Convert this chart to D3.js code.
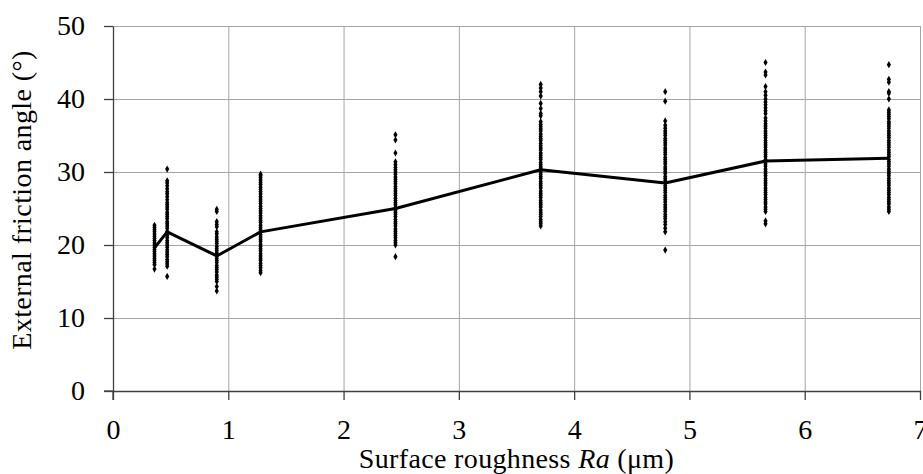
<!DOCTYPE html>
<html>
<head>
<meta charset="utf-8">
<script src="https://cdn.jsdelivr.net/npm/d3@7"></script>
<style>
  body { margin: 0; background: #fff; }
  svg { display: block; }
  text { font-family: "Liberation Serif", "DejaVu Serif", serif; }
</style>
</head>
<body>
<div id="chart"></div>
<script>
// roughness (Ra, um) of each tested surface
const roughness = [0.36, 0.47, 0.90, 1.28, 2.45, 3.71, 4.79, 5.66, 6.73];
// mean external friction angle per surface
const meanAngle = [19.6, 21.8, 18.5, 21.8, 25.0, 30.3, 28.5, 31.5, 31.9];

// individual measurements per surface (deg)
const g1 = [16.7,17.3,17.6,17.9,18.2,18.5,18.8,19.1,19.4,19.7,20.0,20.3,20.6,20.9,21.2,21.5,21.8,22.1,22.4,22.7];
const g2 = [15.7,17.1,17.4,17.7,18.0,18.4,18.7,19.0,19.3,19.7,20.0,20.3,20.6,21.0,21.3,21.6,21.9,22.3,22.6,22.9,23.2,23.6,23.9,24.2,24.5,24.9,25.2,25.5,25.8,26.2,26.6,27.0,27.3,27.7,28.1,28.5,28.8,30.4];
const g3 = [13.7,14.3,15.0,15.3,15.6,15.9,16.3,16.6,16.9,17.2,17.6,17.9,18.2,18.5,18.9,19.2,19.5,19.8,20.2,20.5,20.8,21.1,21.5,21.8,22.5,22.8,23.2,24.6,24.9];
const g4 = [16.2,16.5,16.9,17.2,17.5,17.9,18.2,18.5,18.8,19.2,19.5,19.8,20.1,20.5,20.8,21.1,21.4,21.8,22.1,22.4,22.7,23.1,23.4,23.7,24.0,24.4,24.7,25.0,25.3,25.7,26.0,26.3,26.6,27.0,27.3,27.6,27.9,28.3,28.6,28.9,29.2,29.5,29.7];
const g5 = [18.4,20.0,20.3,20.6,21.0,21.3,21.6,21.9,22.2,22.6,22.9,23.2,23.5,23.9,24.2,24.5,24.8,25.1,25.5,25.8,26.1,26.4,26.8,27.1,27.4,27.7,28.0,28.4,28.7,29.0,29.3,29.7,30.0,30.3,30.6,31.0,31.4,32.6,34.4,35.1];
const g6 = [22.6,22.9,23.2,23.5,23.9,24.2,24.5,24.8,25.2,25.5,25.8,26.1,26.5,26.8,27.1,27.4,27.8,28.1,28.4,28.7,29.1,29.4,29.7,30.0,30.4,30.7,31.0,31.3,31.7,32.0,32.3,32.6,33.0,33.3,33.6,33.9,34.3,34.6,34.9,35.2,35.6,35.9,36.2,36.5,36.9,37.7,38.0,38.7,39.4,40.4,41.0,41.5,42.0];
const g7 = [19.3,21.8,22.3,22.8,23.2,23.6,23.9,24.2,24.6,24.9,25.2,25.5,25.9,26.2,26.5,26.8,27.2,27.5,27.8,28.1,28.5,28.8,29.1,29.4,29.8,30.1,30.4,30.7,31.1,31.4,31.7,32.0,32.4,32.7,33.0,33.3,33.7,34.0,34.3,34.6,35.0,35.3,35.6,36.0,36.4,37.0,39.7,41.0];
const g8 = [22.9,23.3,24.6,24.9,25.2,25.6,25.9,26.2,26.5,26.9,27.2,27.5,27.8,28.2,28.5,28.8,29.1,29.5,29.8,30.1,30.4,30.8,31.1,31.4,31.7,32.1,32.4,32.7,33.0,33.4,33.7,34.0,34.3,34.7,35.0,35.3,35.6,36.0,36.3,36.6,37.0,37.4,38.0,38.4,38.8,39.2,39.6,40.0,40.5,41.0,41.7,43.3,43.7,45.0];
const g9 = [24.6,24.9,25.2,25.6,25.9,26.2,26.5,26.9,27.2,27.5,27.8,28.2,28.5,28.8,29.1,29.5,29.8,30.1,30.4,30.8,31.1,31.4,31.7,32.1,32.4,32.7,33.0,33.4,33.7,34.0,34.3,34.7,35.0,35.3,35.6,36.0,36.3,36.6,36.9,37.3,37.6,37.9,38.2,38.5,40.0,40.8,41.0,42.3,42.7,44.7];
const measurements = [g1, g2, g3, g4, g5, g6, g7, g8, g9];

const xTicks = [0, 1, 2, 3, 4, 5, 6, 7];
const yTicks = [0, 10, 20, 30, 40, 50];

const W = 923, H = 474;
const margin = {top: 26, right: 3, bottom: 83, left: 113};
const width = W - margin.left - margin.right,
      height = H - margin.top - margin.bottom;
const fontSize = 28;

const svg = d3.select("#chart").append("svg")
    .attr("width", W).attr("height", H);
const g = svg.append("g")
    .attr("transform", "translate(" + margin.left + "," + margin.top + ")");

const x = d3.scaleLinear().domain([0, 7]).range([0, width]);
const y = d3.scaleLinear().domain([0, 50]).range([height, 0]);

// grid
g.append("g")
    .call(d3.axisLeft(y).tickValues(yTicks).tickSize(-width).tickFormat(""))
    .call(s => s.select(".domain").remove())
    .selectAll("line").attr("stroke", "#a6a6a6");
g.append("g")
    .call(d3.axisBottom(x).tickValues(xTicks).tickSize(height).tickFormat(""))
    .call(s => s.select(".domain").remove())
    .selectAll("line").attr("stroke", "#a6a6a6");

// scatter of individual measurements
const pts = [];
measurements.forEach((arr, i) => arr.forEach(v => pts.push({x: roughness[i], y: v})));
g.append("g").selectAll("path").data(pts).enter().append("path")
    .attr("d", d3.symbol().type(d3.symbolDiamond).size(15))
    .attr("transform", d => "translate(" + x(d.x) + "," + y(d.y) + ")")
    .attr("fill", "#000");

// mean line
g.append("path")
    .datum(roughness.map((r, i) => ({x: r, y: meanAngle[i]})))
    .attr("fill", "none")
    .attr("stroke", "#000")
    .attr("stroke-width", 3)
    .attr("stroke-linejoin", "round")
    .attr("d", d3.line().x(d => x(d.x)).y(d => y(d.y)));

// axes
const yAxis = g.append("g")
    .call(d3.axisLeft(y).tickValues(yTicks).tickFormat(d3.format("d"))
        .tickSize(9).tickSizeOuter(0).tickPadding(19));
const xAxis = g.append("g")
    .attr("transform", "translate(0," + height + ")")
    .call(d3.axisBottom(x).tickValues(xTicks).tickFormat(d3.format("d"))
        .tickSize(9).tickSizeOuter(0));
[xAxis, yAxis].forEach(a => {
    a.attr("font-family", null).attr("font-size", null);
    a.select(".domain").attr("stroke", "#404040").attr("stroke-width", 1.3);
    a.selectAll(".tick line").attr("stroke", "#404040").attr("stroke-width", 1.3);
    a.selectAll("text").attr("font-size", fontSize).attr("fill", "#000");
});
xAxis.selectAll("text").attr("y", 48).attr("dy", null);
// extend axis lines through the outer ticks
g.append("line").attr("x1", -9).attr("x2", 0).attr("y1", height).attr("y2", height)
    .attr("stroke", "#404040").attr("stroke-width", 1.3);
g.append("line").attr("x1", 0).attr("x2", 0).attr("y1", height).attr("y2", height + 9)
    .attr("stroke", "#404040").attr("stroke-width", 1.3);

// axis titles
const xt = svg.append("text")
    .attr("x", margin.left + width / 2).attr("y", 468)
    .attr("text-anchor", "middle").attr("font-size", fontSize)
    .attr("letter-spacing", 0.35);
xt.append("tspan").text("Surface roughness ");
xt.append("tspan").attr("font-style", "italic").text("Ra");
xt.append("tspan").text(" (\u03bcm)");

svg.append("text")
    .attr("transform", "translate(31," + 200 + ")rotate(-90)")
    .attr("text-anchor", "middle").attr("font-size", fontSize)
    .attr("letter-spacing", 0.4)
    .text("External friction angle (\u00b0)");
</script>
</body>
</html>
